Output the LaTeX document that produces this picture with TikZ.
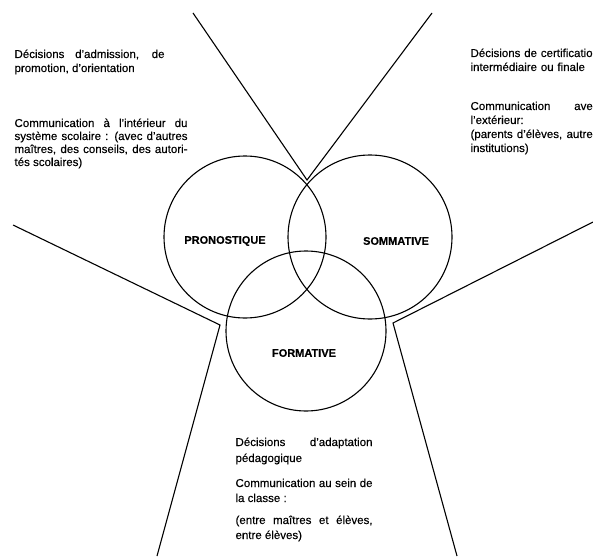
\documentclass[tikz,border=0pt]{standalone}
\usepackage{fontspec}
\setmainfont[FakeBold=0.3]{Liberation Sans}

\begin{document}
\begin{tikzpicture}[x=1pt,y=-1pt,line width=1.1pt,
  rond/.style={draw,circle,inner sep=0pt},
  texte/.style={inner sep=0pt,anchor=base west,align=justify,font=\fontsize{11.5pt}{14pt}\selectfont},
  titre/.style={inner sep=0pt,font=\fontsize{11pt}{13pt}\selectfont\bfseries}]
\clip (0,0) rectangle (593,556);

% les trois cercles
\node[rond,minimum size=162pt] (pronostique) at (245,237) {};
\node[rond,minimum size=164pt] (sommative) at (370,237) {};
\node[rond,minimum size=160pt] (formative) at (306,331) {};

\node[titre] (lpro) at (225,241) {PRONOSTIQUE};
\node[titre] (lsom) at (396,241) {SOMMATIVE};
\node[titre] (lfor) at (304,353) {FORMATIVE};

% les traits
\coordinate (hautG) at (193,13);
\coordinate (sommet) at (307,180);
\coordinate (hautD) at (432,13);
\draw (hautG) -- (sommet) -- (hautD);

\coordinate (gaucheH) at (13,225);
\coordinate (coinG) at (220,325);
\coordinate (gaucheB) at (157,556);
\draw (gaucheH) -- (coinG) -- (gaucheB);

\coordinate (droiteH) at (593,222);
\coordinate (coinD) at (393,323);
\coordinate (droiteB) at (457,556);
\draw (droiteH) -- (coinD) -- (droiteB);

% les textes
\node[texte,text width=150pt] (admission) at (14,58)
  {Décisions d'admission, de\linebreak promotion, d'orientation};

\node[texte,text width=173pt,font=\fontsize{11.5pt}{13pt}\selectfont] (interieur) at (14,127)
  {Communication à l'intérieur du\linebreak système scolaire : (avec d'autres\linebreak
   maîtres, des conseils, des autori-\linebreak tés scolaires)};

\node[texte,text width=140pt,align=left] (certification) at (470,57)
  {Décisions de certification\\ intermédiaire ou finale};

\node[texte,text width=128pt] (exterieur) at (470,110)
  {Communication avec\linebreak l'extérieur:\\ (parents d'élèves, autres institutions)};

\node[texte,text width=137pt,font=\fontsize{11.5pt}{16pt}\selectfont] (adaptation) at (235,446)
  {Décisions d'adaptation\linebreak pédagogique};

\node[texte,text width=137pt,font=\fontsize{11.5pt}{15pt}\selectfont] (classe) at (235,487)
  {Communication au sein de\linebreak la classe~:};

\node[texte,text width=137pt,font=\fontsize{11.5pt}{15pt}\selectfont] (eleves) at (235,524)
  {(entre maîtres et élèves,\linebreak entre élèves)};

\end{tikzpicture}
\end{document}
